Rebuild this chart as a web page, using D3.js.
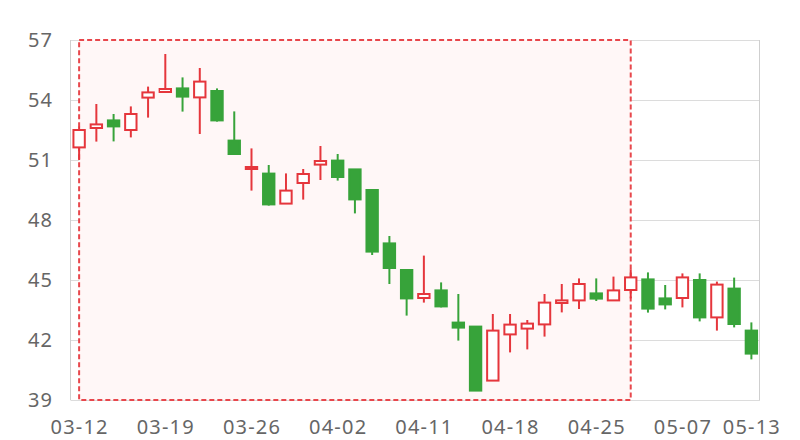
<!DOCTYPE html>
<html><head><meta charset="utf-8">
<script src="https://cdn.jsdelivr.net/npm/d3@7/dist/d3.min.js"></script>
<style>html,body{margin:0;padding:0;background:#fff;}svg{display:block;}</style>
</head><body>
<svg id="chart" width="800" height="440"></svg>
<script>
const dates = ["03-12","03-13","03-14","03-15","03-16","03-19","03-20","03-21","03-22","03-23",
  "03-26","03-27","03-28","03-29","03-30","04-02","04-03","04-04","04-09","04-10",
  "04-11","04-12","04-13","04-16","04-17","04-18","04-19","04-20","04-23","04-24",
  "04-25","04-26","04-27","05-03","05-04","05-07","05-08","05-09","05-10","05-13"];
const open  = [51.63,52.6,52.98,52.5,54.12,54.4,54.58,54.13,54.45,51.97,50.55,50.32,48.82,49.85,50.77,50.97,50.53,49.5,46.83,45.5,44.1,44.48,42.87,42.67,39.97,42.28,42.57,42.78,43.85,43.98,44.33,43.98,44.5,45.03,44.08,44.1,45.0,43.13,44.57,42.47];
const close = [52.5,52.78,52.68,53.3,54.38,54.55,54.17,54.92,52.98,51.3,50.65,48.78,49.47,50.3,50.95,50.15,49.03,46.42,45.6,44.08,44.3,43.68,42.62,39.47,42.47,42.77,42.82,43.87,43.98,44.8,44.07,44.48,45.13,43.57,43.78,45.13,43.13,44.77,42.8,41.32];
const low   = [51.0,51.92,51.93,52.13,53.12,54.4,53.42,52.3,52.92,51.28,49.47,48.72,48.82,49.02,50.0,49.97,48.33,46.25,44.8,43.22,43.87,43.63,41.97,39.47,39.97,41.38,41.53,42.17,43.38,43.55,43.95,43.98,44.08,43.37,43.53,43.63,42.93,42.47,42.63,41.03];
const high  = [52.67,53.8,53.3,53.68,54.67,56.3,55.13,55.6,54.58,53.43,51.58,50.75,50.33,50.55,51.7,51.3,50.53,49.5,47.2,45.5,46.22,44.88,44.3,42.67,43.3,43.3,43.0,44.3,44.8,45.08,45.08,45.17,45.53,45.38,44.75,45.33,45.33,44.92,45.12,42.88];
const yTicks = [39,42,45,48,51,54,57];
const xTickLabels = ["03-12","03-19","03-26","04-02","04-11","04-18","04-25","05-07","05-13"];
const markAreaRange = ["03-12","04-27"];

const svg = d3.select("#chart");
const L = 70.5, R = 760, T = 40, B = 400;
const x = d3.scaleBand().domain(dates).range([L, R]).padding(0);
const y = d3.scaleLinear().domain([39, 57]).range([B, T]);
const cx = d => x(d) + x.bandwidth() / 2;
const RED = "#e5363c", GREEN = "#37a33a";
const font = "'Noto Sans', sans-serif";

// grid
const g = svg.append("g");
g.selectAll("line.grid").data(yTicks).join("line")
  .attr("x1", L).attr("x2", R).attr("y1", d => Math.round(y(d)) + 0.5).attr("y2", d => Math.round(y(d)) + 0.5)
  .attr("stroke", "#dcdcdc").attr("stroke-width", 1);
g.append("line").attr("x1", L).attr("x2", L).attr("y1", T).attr("y2", B).attr("stroke", "#cfcfcf");
g.append("line").attr("x1", R - 0.5).attr("x2", R - 0.5).attr("y1", T).attr("y2", B).attr("stroke", "#cfcfcf");

// mark area
const mx0 = cx(markAreaRange[0]), mx1 = cx(markAreaRange[1]);
svg.append("rect").attr("x", mx0).attr("y", y(57)).attr("width", mx1 - mx0).attr("height", y(39) - y(57))
  .attr("fill", "#fff7f7").attr("stroke", "#e8474c").attr("stroke-width", 2).attr("stroke-dasharray", "5,3");

// candles
const bw = x.bandwidth() * 0.66;
const data = dates.map((d, i) => ({d, o: open[i], c: close[i], l: low[i], h: high[i]}));
const cg = svg.append("g");
cg.selectAll("line.wick").data(data).join("line")
  .attr("x1", d => cx(d.d)).attr("x2", d => cx(d.d))
  .attr("y1", d => y(d.h)).attr("y2", d => y(d.l))
  .attr("stroke", d => d.c >= d.o ? RED : GREEN).attr("stroke-width", 2);
cg.selectAll("rect.body").data(data).join("rect")
  .attr("x", d => cx(d.d) - bw / 2)
  .attr("y", d => y(Math.max(d.o, d.c)))
  .attr("width", bw)
  .attr("height", d => Math.max(1, Math.abs(y(d.o) - y(d.c))))
  .attr("fill", d => d.c >= d.o ? "#ffffff" : GREEN)
  .attr("stroke", d => d.c >= d.o ? RED : GREEN)
  .attr("stroke-width", 2);

// y labels
svg.append("g").selectAll("text").data(yTicks).join("text")
  .attr("x", 53).attr("y", d => y(d)).attr("dy", "0.36em").attr("text-anchor", "end")
  .attr("font-family", font).attr("font-size", 20).attr("letter-spacing", "1px").attr("fill", "#666")
  .text(d => d);

// x labels
svg.append("g").selectAll("text").data(xTickLabels).join("text")
  .attr("x", d => cx(d) + 0.5).attr("y", 434).attr("text-anchor", "middle")
  .attr("font-family", font).attr("font-size", 20).attr("letter-spacing", "1.2px").attr("fill", "#666")
  .text(d => d);
</script>
</body></html>
